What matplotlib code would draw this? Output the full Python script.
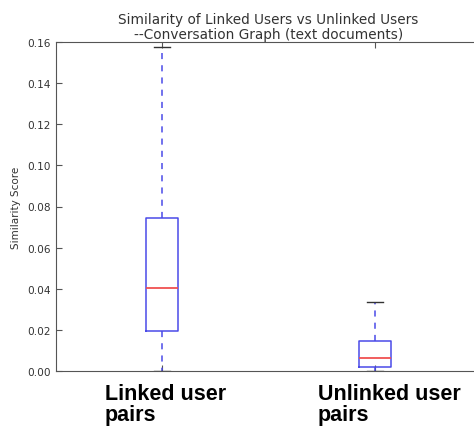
import matplotlib.pyplot as plt
from matplotlib.transforms import ScaledTranslation

# -------- Data --------
groups = ["Linked user\npairs", "Unlinked user\npairs"]
q1 = [0.0195, 0.0018]
median = [0.0402, 0.0065]
q3 = [0.0746, 0.0147]
whisker_low = [0.0, 0.0]
whisker_high = [0.1574, 0.0334]

stats = []
for i in range(len(groups)):
    stats.append({
        "label": groups[i],
        "q1": q1[i],
        "med": median[i],
        "q3": q3[i],
        "whislo": whisker_low[i],
        "whishi": whisker_high[i],
        "fliers": [],
    })

fig = plt.figure(figsize=(4.74, 4.27), dpi=100)
# axes run past the right edge, as in the cropped original
ax = fig.add_axes([55.5 / 474, 1 - 372 / 427, 426 / 474, 329 / 427])

ax.bxp(stats, positions=[1, 2], widths=0.15, showfliers=False,
       boxprops=dict(color="#4a4ae8", linewidth=1.1),
       whiskerprops=dict(color="#4a4ae8", linewidth=1.1, linestyle=(0, (4, 4))),
       capprops=dict(color="#333333", linewidth=1.0),
       medianprops=dict(color="#f05050", linewidth=1.3))

ax.set_xlim(0.5, 2.5)
ax.set_ylim(0, 0.16)
ax.set_yticks([0.0, 0.02, 0.04, 0.06, 0.08, 0.10, 0.12, 0.14, 0.16])
ax.set_yticklabels(["%.2f" % v for v in ax.get_yticks()])

for s in ax.spines.values():
    s.set_color("#555555")
ax.tick_params(direction="in", top=True, right=True, colors="#555555",
               labelcolor="#333333", labelsize=7.6, length=4)
ax.tick_params(axis="x", labelsize=15.5, labelcolor="black", pad=8.5)

ax.set_xticks([1, 2])
ax.set_xticklabels(groups, fontfamily="Liberation Sans", fontweight="bold",
                   ha="left", multialignment="left", linespacing=1.02)
offset = ScaledTranslation(-57 / 100, 0, fig.dpi_scale_trans)
for lab in ax.get_xticklabels():
    lab.set_transform(lab.get_transform() + offset)

ax.set_ylabel("Similarity Score", fontsize=7.5, color="#333333", labelpad=4)
ax.set_title("Similarity of Linked Users vs Unlinked Users\n--Conversation Graph (text documents)",
             fontsize=9.8, color="#333333", pad=3, linespacing=1.05)

fig.savefig("out.png", dpi=100)
